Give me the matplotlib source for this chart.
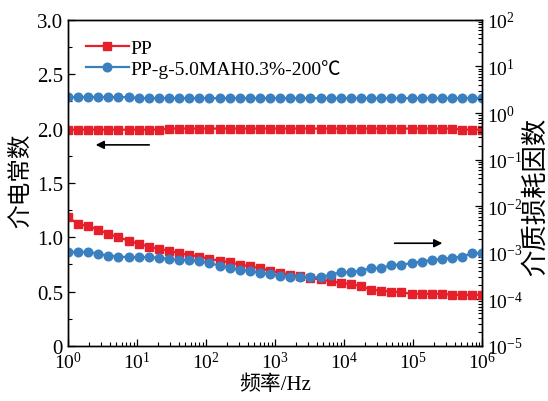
import numpy as np
import matplotlib
matplotlib.use("Agg")
import matplotlib.pyplot as plt

plt.rcParams['font.family'] = ['Liberation Serif', 'Noto Sans CJK SC']
plt.rcParams['mathtext.fontset'] = 'custom'
plt.rcParams['mathtext.rm'] = 'Liberation Serif'
plt.rcParams['mathtext.it'] = 'Liberation Serif:italic'
plt.rcParams['mathtext.bf'] = 'Liberation Serif:bold'
plt.rcParams['axes.unicode_minus'] = False

# frequency grid, 42 points from 1 Hz to 1 MHz
freq = np.logspace(0, 6, 42)

# dielectric constant
eps_pp = [1.99, 1.99, 1.99, 1.99, 1.99, 1.99, 1.99, 1.99, 1.99, 1.99,
          2.00, 2.00, 2.00, 2.00, 2.00, 2.00, 2.00, 2.00, 2.00, 2.00,
          2.00, 2.00, 2.00, 2.00, 2.00, 2.00, 2.00, 2.00, 2.00, 2.00,
          2.00, 2.00, 2.00, 2.00, 2.00, 2.00, 2.00, 2.00, 2.00, 1.99,
          1.99, 1.99]
eps_mah = [2.29, 2.29, 2.29, 2.29, 2.29, 2.29, 2.29, 2.28, 2.28, 2.28,
           2.28, 2.28, 2.28, 2.28, 2.28, 2.28, 2.28, 2.28, 2.28, 2.28,
           2.28, 2.28, 2.28, 2.28, 2.28, 2.28, 2.28, 2.28, 2.28, 2.28,
           2.28, 2.28, 2.28, 2.28, 2.28, 2.28, 2.28, 2.28, 2.28, 2.28,
           2.28, 2.28]

# dielectric loss factor
tan_pp = [5.81e-3, 4.17e-3, 3.72e-3, 3.14e-3, 2.54e-3, 2.16e-3, 1.82e-3,
          1.55e-3, 1.36e-3, 1.21e-3, 1.11e-3, 9.79e-4, 9.00e-4, 8.28e-4,
          7.38e-4, 6.79e-4, 6.26e-4, 5.57e-4, 5.14e-4, 4.66e-4, 4.14e-4,
          3.70e-4, 3.40e-4, 3.14e-4, 2.84e-4, 2.68e-4, 2.45e-4, 2.25e-4,
          2.14e-4, 1.91e-4, 1.62e-4, 1.54e-4, 1.47e-4, 1.42e-4, 1.31e-4,
          1.31e-4, 1.31e-4, 1.31e-4, 1.26e-4, 1.24e-4, 1.24e-4, 1.24e-4]
tan_mah = [1.06e-3, 1.03e-3, 1.06e-3, 9.46e-4, 8.69e-4, 8.28e-4, 8.04e-4,
           8.04e-4, 8.04e-4, 7.77e-4, 7.38e-4, 7.03e-4, 7.13e-4, 6.59e-4,
           5.97e-4, 5.30e-4, 4.73e-4, 4.35e-4, 4.02e-4, 3.75e-4, 3.47e-4,
           3.24e-4, 3.08e-4, 3.08e-4, 2.99e-4, 2.96e-4, 3.40e-4, 3.83e-4,
           3.83e-4, 4.14e-4, 4.73e-4, 4.66e-4, 5.48e-4, 5.57e-4, 5.97e-4,
           6.46e-4, 7.03e-4, 7.28e-4, 7.77e-4, 8.28e-4, 9.79e-4, 9.79e-4]

labels = ['PP', 'PP-g-5.0MAH0.3%-200℃']
red = '#e5202a'
blue = '#3a7fbf'

fig = plt.figure(figsize=(5.48, 4.02), dpi=100)
ax = fig.add_axes([0.124, 0.137, 0.756, 0.811])
ax2 = ax.twinx()

l1, = ax.plot(freq, eps_pp, '-s', color=red, lw=1.6, ms=5.8, label=labels[0])
l2, = ax.plot(freq, eps_mah, '-o', color=blue, lw=1.6, ms=6.2, label=labels[1])
ax2.plot(freq, tan_pp, '-s', color=red, lw=1.6, ms=5.8)
ax2.plot(freq, tan_mah, '-o', color=blue, lw=1.6, ms=6.2)

ax.set_xscale('log')
ax.set_xlim(1, 1e6)
ax.set_ylim(0, 3.0)
ax.set_yticks([0, 0.5, 1.0, 1.5, 2.0, 2.5, 3.0])
ax.set_yticklabels(['0', '0.5', '1.0', '1.5', '2.0', '2.5', '3.0'])
ax.set_yticks(np.arange(0.25, 3.0, 0.5), minor=True)

ax2.set_yscale('log')
ax2.set_ylim(1e-5, 1e2)
ax2.set_xlim(1, 1e6)

for a in (ax, ax2):
    a.tick_params(which='both', direction='in', labelsize=14, top=False)
    a.tick_params(which='major', length=5, width=0.9)
    a.tick_params(which='minor', length=3, width=0.8)
    for s in a.spines.values():
        s.set_linewidth(1.0)
ax.tick_params(axis='y', labelsize=15)

ax.set_xlabel('频率/Hz', fontsize=15, labelpad=2, fontweight='light')
ax.set_ylabel('介电常数', fontsize=17, fontweight='light')
ax.yaxis.set_label_coords(-0.087, 0.51)
ax2.set_ylabel('介质损耗因数', fontsize=19, fontweight='light')
ax2.yaxis.set_label_coords(1.098, 0.46)

# arrows pointing to the axis each group belongs to
ax.annotate('', xy=(2.3, 1.85), xytext=(16.5, 1.85),
            arrowprops=dict(arrowstyle='-|>', color='black', lw=1.2,
                            mutation_scale=12))
ax.annotate('', xy=(2.9e5, 0.945), xytext=(4.9e4, 0.945),
            arrowprops=dict(arrowstyle='-|>', color='black', lw=1.2,
                            mutation_scale=12))

ax.legend(handles=[l1, l2], loc='upper left', frameon=False, fontsize=14,
          handlelength=2.2, handletextpad=0.1, labelspacing=0.1,
          borderaxespad=0.0, bbox_to_anchor=(0.025, 0.965))

fig.savefig('out.png', dpi=100)
